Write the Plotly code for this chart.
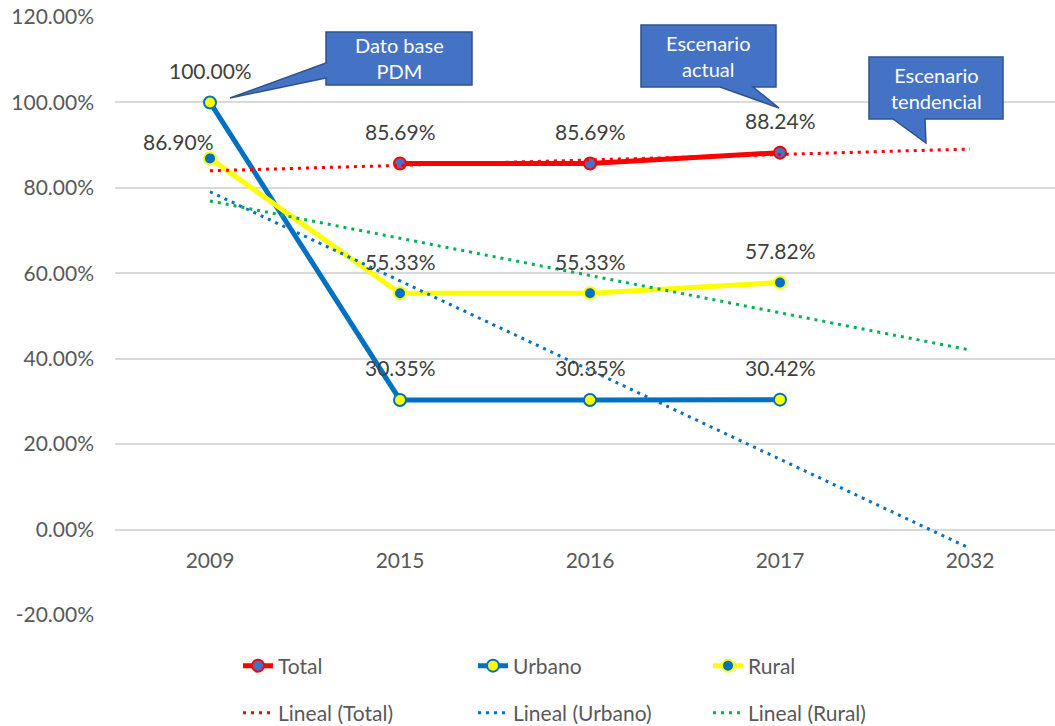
import numpy as np
import plotly.graph_objects as go

# --- data -------------------------------------------------------------
years = ["2009", "2015", "2016", "2017", "2032"]
total = [None, 85.69, 85.69, 88.24]
urbano = [100.00, 30.35, 30.35, 30.42]
rural = [86.90, 55.33, 55.33, 57.82]
y_ticks = [-20, 0, 20, 40, 60, 80, 100, 120]

# --- layout helpers -----------------------------------------------------
W, H = 1055, 726
PL, PR, PT, PB = 115, 0, 17, 111
PW, PH = W - PL - PR, H - PT - PB


def px(x):
    return (x - PL) / PW


def py(y):
    return (H - PB - y) / PH


FONT = "Lato"
GREY = "#595959"
LABEL = "#404040"
RED = "#FF0000"
BLUE = "#0070C0"
YELLOW = "#FFFF00"
GREEN = "#00B050"
MBLUE = "#4472C4"


def trend(values, n_out):
    """Least-squares line over category positions, as a spreadsheet trendline."""
    idx = np.array([i for i, v in enumerate(values) if v is not None], dtype=float)
    val = np.array([v for v in values if v is not None], dtype=float)
    slope, icpt = np.polyfit(idx, val, 1)
    xs = np.arange(n_out)
    return list(slope * xs + icpt)


fig = go.Figure()

series = [
    ("Total", total, RED, MBLUE, RED),
    ("Urbano", urbano, BLUE, YELLOW, BLUE),
    ("Rural", rural, YELLOW, BLUE, YELLOW),
]
for name, vals, lc, mfill, mline in series:
    fig.add_trace(go.Scatter(
        x=years[:len(vals)], y=vals, name=name, mode="lines+markers",
        line=dict(color=lc, width=5),
        marker=dict(size=12, color=mfill, line=dict(color=mline, width=2)),
        legend="legend", connectgaps=False,
    ))

trends = [
    ("Lineal (Total)", total, RED),
    ("Lineal (Urbano)", urbano, BLUE),
    ("Lineal (Rural)", rural, GREEN),
]
for name, vals, c in trends:
    fig.add_trace(go.Scatter(
        x=years, y=trend(vals, len(years)), name=name, mode="lines",
        line=dict(color=c, width=3, dash="3px,5px"),
        legend="legend2",
    ))

# data labels (value text above each point)
ann = []
label_shift = {("Rural", 0): (-32, 17)}
for name, vals, *_ in series:
    for i, v in enumerate(vals):
        if v is None:
            continue
        dx, dy = label_shift.get((name, i), (0, 32))
        ann.append(dict(
            x=i, y=v, xref="x", yref="y", text=f"{v:.2f}%", showarrow=False,
            xanchor="center", yanchor="middle",
            xshift=dx, yshift=dy, font=dict(family=FONT, size=21, color=LABEL),
        ))

# callout boxes with pointers
callouts = [
    ("Dato base<br>PDM",
     [(326, 32), (472, 32), (472, 85), (326, 85), (326, 78), (230, 98), (326, 63)],
     (399, 58)),
    ("Escenario<br>actual",
     [(641, 25), (776, 25), (776, 87), (753, 87), (779, 108), (720, 87), (641, 87)],
     (708, 56)),
    ("Escenario<br>tendencial",
     [(869, 57), (1003, 57), (1003, 119), (925, 119), (926, 143), (893, 119), (869, 119)],
     (936, 88)),
]
shapes = []
for text, pts, (bx, by) in callouts:
    path = "M " + " L ".join(f"{px(a):.5f},{py(b):.5f}" for a, b in pts) + " Z"
    shapes.append(dict(type="path", xref="paper", yref="paper", path=path,
                       fillcolor=MBLUE, line=dict(color="#2F528F", width=1.5),
                       layer="above"))
    ann.append(dict(x=px(bx), y=py(by), xref="paper", yref="paper", text=text,
                    showarrow=False, align="center", xanchor="center", yanchor="middle",
                    font=dict(family=FONT, size=20, color="white")))

legend_common = dict(orientation="h", xanchor="left", yanchor="middle",
                     entrywidth=190, entrywidthmode="pixels", traceorder="normal",
                     font=dict(family=FONT, size=21, color=GREY),
                     bgcolor="rgba(0,0,0,0)", borderwidth=0, tracegroupgap=0)

fig.update_layout(
    width=W, height=H,
    margin=dict(l=PL, r=PR, t=PT, b=PB, autoexpand=False),
    paper_bgcolor="white", plot_bgcolor="white",
    font=dict(family=FONT, size=21, color=GREY),
    showlegend=True,
    legend=dict(x=px(238), y=py(666), **legend_common),
    legend2=dict(x=px(238), y=py(713), **legend_common),
    xaxis=dict(type="category", categoryorder="array", categoryarray=years,
               range=[-0.5, -0.5 + PW / 190], showgrid=False, zeroline=False,
               showline=False, ticks="", anchor="free", position=20 / 140,
               ticklabelstandoff=16, tickfont=dict(family=FONT, size=21, color=GREY)),
    yaxis=dict(range=[-20, 120], tickvals=y_ticks,
               ticktext=[f"{v:.2f}%" for v in y_ticks],
               showgrid=True, gridcolor="#D9D9D9", gridwidth=1.5, zeroline=False,
               showline=False, ticks="", ticklabelstandoff=20,
               tickfont=dict(family=FONT, size=21, color=GREY)),
    annotations=ann, shapes=shapes,
    hovermode=False,
)

fig.write_html("out.html")
